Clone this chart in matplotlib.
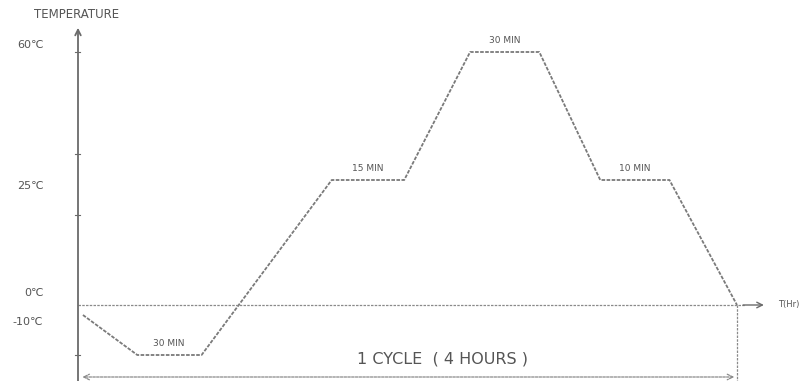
import numpy as np
import matplotlib.pyplot as plt

# temperature profile of one cycle (hours, deg C)
times = [0.03, 0.36, 0.75, 1.54, 1.98, 2.38, 2.80, 3.17, 3.59, 4.0]
temps = [-2, -10, -10, 25, 25, 60, 60, 25, 25, 0]

levels = [60, 25, 0, -10]
level_labels = ['60℃', '25℃', '0℃', '-10℃']

dwell_labels = ['30 MIN', '15 MIN', '30 MIN', '10 MIN']
dwell_mid = [0.55, 1.76, 2.59, 3.38]
dwell_temp = [-10, 25, 60, 25]

cycle_hours = 4.0

# schematic (piecewise linear) temperature axis
knots_t = [-40, -10, 0, 25, 60, 100]
knots_p = [-124, 26, 76, 201, 329, 475.3]

def fwd(t):
	return np.interp(t, knots_t, knots_p)

def inv(p):
	return np.interp(p, knots_p, knots_t)


fig = plt.figure(figsize=(8.04, 3.81), dpi=100)
ax = fig.add_axes([0, 0, 1, 1])
ax.set_yscale('function', functions=(fwd, inv))
ax.set_xlim(-78 / 164.75, 726 / 164.75)
ax.set_ylim(inv(0), inv(381))
ax.axis('off')

grey = '#6a6a6a'
txt = '#555555'

# profile
ax.plot(times, temps, color='#7a7a7a', lw=1.3, linestyle=(0, (2, 0.8)))

# vertical temperature axis with arrow
ax.annotate('', xy=(0, inv(356)), xytext=(0, inv(-5)),
			arrowprops=dict(arrowstyle='->', color=grey, lw=1.3))
ax.text(-0.01, inv(366), 'TEMPERATURE', fontsize=8.5, color=txt,
		ha='center', va='center')

# zero line with arrow (time axis)
ax.plot([0, 4.05], [0, 0], color='#8a8a8a', lw=0.9, linestyle=(0, (2, 1)))
ax.annotate('', xy=(4.18, 0), xytext=(4.02, 0),
			arrowprops=dict(arrowstyle='->', color=grey, lw=1.0))
ax.text(4.25, 0, 'T(Hr)', fontsize=6, color=txt, ha='left', va='center')

# level labels and ticks
offsets = [5, -4, 9, 24]
for lv, lab, off in zip(levels, level_labels, offsets):
	ax.annotate(lab, xy=(-0.21, lv), xytext=(0, off), textcoords='offset points',
				fontsize=8, color=txt, ha='right', va='center')
for tk in [60, 32, 18, -10]:
	ax.plot([-0.02, 0.015], [tk, tk], color=grey, lw=0.8)

# dwell labels
for x, t, lab in zip(dwell_mid, dwell_temp, dwell_labels):
	ax.annotate(lab, xy=(x, t), xytext=(0, 5), textcoords='offset points',
				fontsize=6.5, color=txt, ha='center', va='bottom')

# cycle marker
ax.plot([cycle_hours, cycle_hours], [0, inv(-2)], color='#8a8a8a', lw=0.9,
		linestyle=(0, (2, 1)))
ax.annotate('', xy=(0.01, inv(4)), xytext=(cycle_hours, inv(4)),
			arrowprops=dict(arrowstyle='<->', color='#8a8a8a', lw=0.9,
							linestyle=(0, (2, 1))))
ax.text(2.21, inv(22), '1 CYCLE  ( 4 HOURS )', fontsize=11.5, color=txt,
		ha='center', va='center')

fig.savefig('out.png', dpi=100)
